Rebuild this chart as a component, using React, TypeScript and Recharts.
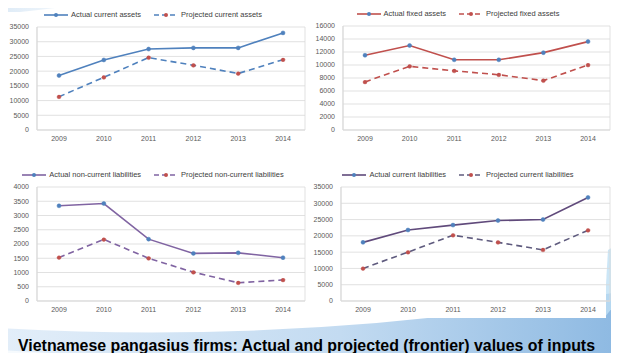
import { LineChart, Line, XAxis, YAxis, CartesianGrid, Legend } from 'recharts';

const YEARS = ['2009', '2010', '2011', '2012', '2013', '2014'];

const currentAssetsActual = [18500, 23800, 27500, 27900, 27900, 33000];
const currentAssetsProjected = [11300, 17900, 24600, 22000, 19200, 23900];

const fixedAssetsActual = [11500, 13000, 10800, 10800, 11900, 13600];
const fixedAssetsProjected = [7400, 9800, 9100, 8500, 7600, 10000];

const nonCurrentLiabActual = [3340, 3420, 2170, 1670, 1690, 1520];
const nonCurrentLiabProjected = [1530, 2160, 1500, 1010, 640, 740];

const currentLiabActual = [18000, 21800, 23300, 24700, 25000, 31800];
const currentLiabProjected = [10000, 15000, 20200, 18000, 15700, 21700];

const TICKS_35K = [0, 5000, 10000, 15000, 20000, 25000, 30000, 35000];
const TICKS_16K = [0, 2000, 4000, 6000, 8000, 10000, 12000, 14000, 16000];
const TICKS_4K = [0, 500, 1000, 1500, 2000, 2500, 3000, 3500, 4000];

const TITLE = 'Vietnamese pangasius firms: Actual and projected (frontier) values of inputs';

const BLUE_DOT = '#4F81BD';
const RED_DOT = '#C0504D';
const GRID = '#D9D9D9';
const FONT = '"Liberation Sans", Arial, sans-serif';

type Row = { year: string; actual: number; projected: number };

function toRows(actual: number[], projected: number[]): Row[] {
    return YEARS.map((year, i) => ({ year, actual: actual[i], projected: projected[i] }));
}

type PanelProps = {
    data: Row[];
    actualName: string;
    projectedName: string;
    actualColor: string;
    projectedColor: string;
    ticks: number[];
    left: number;
    top: number;
    width: number;
    height: number;
    margin: { top: number; right: number; bottom: number; left: number };
    yWidth: number;
};

function LegendIcon({ color, dashed }: { color: string; dashed: boolean }) {
    return (
        <svg width={26} height={8} style={{ marginRight: 2 }}>
            <line
                x1={1}
                y1={4}
                x2={25}
                y2={4}
                stroke={color}
                strokeWidth={1.6}
                strokeDasharray={dashed ? '5 3' : undefined}
            />
            <circle cx={13} cy={4} r={2} fill={dashed ? RED_DOT : BLUE_DOT} />
        </svg>
    );
}

function Panel(props: PanelProps) {
    const { data, ticks, margin } = props;
    const max = ticks[ticks.length - 1];

    const legend = () => (
        <div
            style={{
                height: 18,
                display: 'flex',
                justifyContent: 'center',
                alignItems: 'flex-start',
                fontFamily: FONT,
                fontSize: 7.5,
                color: '#404040',
                lineHeight: '12px',
            }}
        >
            <span style={{ display: 'flex', alignItems: 'center', height: 12, marginRight: 12 }}>
                <LegendIcon color={props.actualColor} dashed={false} />
                {props.actualName}
            </span>
            <span style={{ display: 'flex', alignItems: 'center', height: 12 }}>
                <LegendIcon color={props.projectedColor} dashed={true} />
                {props.projectedName}
            </span>
        </div>
    );

    return (
        <div style={{ position: 'absolute', left: props.left, top: props.top }}>
            <LineChart width={props.width} height={props.height} data={data} margin={margin}>
                <CartesianGrid
                    stroke={GRID}
                    strokeWidth={0.8}
                    verticalCoordinatesGenerator={({ offset }: any) => [
                        offset.left,
                        offset.left + offset.width,
                    ]}
                />
                <XAxis
                    dataKey="year"
                    padding={{ left: 22, right: 22 }}
                    tickLine={false}
                    tickSize={4}
                    tickMargin={2}
                    height={12}
                    axisLine={{ stroke: GRID }}
                    tick={{ fontSize: 7, fill: '#595959', fontFamily: FONT }}
                    interval={0}
                />
                <YAxis
                    domain={[0, max]}
                    ticks={ticks}
                    width={props.yWidth}
                    tickLine={false}
                    axisLine={{ stroke: GRID }}
                    tick={{ fontSize: 7, fill: '#595959', fontFamily: FONT }}
                    interval={0}
                />
                <Legend verticalAlign="top" content={legend} />
                <Line
                    dataKey="actual"
                    name={props.actualName}
                    stroke={props.actualColor}
                    strokeWidth={1.6}
                    dot={{ r: 2, fill: BLUE_DOT, stroke: BLUE_DOT, strokeWidth: 0.5 }}
                    isAnimationActive={false}
                />
                <Line
                    dataKey="projected"
                    name={props.projectedName}
                    stroke={props.projectedColor}
                    strokeWidth={1.6}
                    strokeDasharray="6 4"
                    dot={{ r: 2, fill: RED_DOT, stroke: RED_DOT, strokeWidth: 0.5 }}
                    isAnimationActive={false}
                />
            </LineChart>
        </div>
    );
}

export default function App() {
    return (
        <div
            style={{
                position: 'relative',
                width: 619,
                height: 361,
                margin: -8,
                background: '#ffffff',
                overflow: 'hidden',
            }}
        >
            <svg width={619} height={361} style={{ position: 'absolute', left: 0, top: 0 }}>
                <defs>
                    <linearGradient id="swoosh" x1="0" y1="0" x2="1" y2="0">
                        <stop offset="0%" stopColor="#E3EEF9" />
                        <stop offset="55%" stopColor="#C3DBF1" />
                        <stop offset="100%" stopColor="#8DB9E2" />
                    </linearGradient>
                    <linearGradient id="topSwoosh" x1="0" y1="0" x2="1" y2="0">
                        <stop offset="0%" stopColor="#CFE2F3" />
                        <stop offset="100%" stopColor="#FFFFFF" />
                    </linearGradient>
                </defs>
                <path d="M0,328 Q300,346 619,292 L619,361 L0,361 Z" fill="url(#swoosh)" />
                <path d="M0,361 L0,350 Q120,358 300,361 Z" fill="#ffffff" opacity={0.7} />
                <path d="M608,250 L619,244 L619,300 L604,318 Z" fill="#BFE0F4" opacity={0.8} />
                <rect x={0} y={160} width={606} height={158} fill="#ffffff" />
                <path d="M0,0 L110,0 Q60,8 20,12 L0,12 Z" fill="url(#topSwoosh)" opacity={0.7} />
            </svg>

            <Panel
                data={toRows(currentAssetsActual, currentAssetsProjected)}
                actualName="Actual current assets"
                projectedName="Projected current assets"
                actualColor="#4F81BD"
                projectedColor="#4F81BD"
                ticks={TICKS_35K}
                left={0}
                top={0}
                width={310}
                height={150}
                margin={{ top: 9, right: 5, bottom: 8, left: 0 }}
                yWidth={37}
            />
            <Panel
                data={toRows(fixedAssetsActual, fixedAssetsProjected)}
                actualName="Actual fixed assets"
                projectedName="Projected fixed assets"
                actualColor="#C0504D"
                projectedColor="#C0504D"
                ticks={TICKS_16K}
                left={305}
                top={0}
                width={314}
                height={150}
                margin={{ top: 8, right: 9, bottom: 8, left: 0 }}
                yWidth={38}
            />
            <Panel
                data={toRows(nonCurrentLiabActual, nonCurrentLiabProjected)}
                actualName="Actual non-current liabilities"
                projectedName="Projected non-current liabilities"
                actualColor="#8064A2"
                projectedColor="#8064A2"
                ticks={TICKS_4K}
                left={0}
                top={165}
                width={310}
                height={150}
                margin={{ top: 4, right: 5, bottom: 2, left: 0 }}
                yWidth={37}
            />
            <Panel
                data={toRows(currentLiabActual, currentLiabProjected)}
                actualName="Actual current liabilities"
                projectedName="Projected current liabilities"
                actualColor="#604A7B"
                projectedColor="#5F5B7E"
                ticks={TICKS_35K}
                left={305}
                top={165}
                width={314}
                height={150}
                margin={{ top: 4, right: 9, bottom: 2, left: 0 }}
                yWidth={36}
            />

            <svg width={619} height={30} style={{ position: 'absolute', left: 0, top: 328 }}>
                <text
                    x={18}
                    y={23}
                    fontSize={16}
                    fontWeight="bold"
                    fontFamily={FONT}
                    fill="#000000"
                    textLength={577}
                    lengthAdjust="spacingAndGlyphs"
                >
                    {TITLE}
                </text>
            </svg>
            <div
                style={{
                    position: 'absolute',
                    left: 597,
                    top: 352,
                    fontSize: 6,
                    lineHeight: '7px',
                    fontFamily: FONT,
                    color: '#ffffff',
                }}
            >
                www.ntu
            </div>
        </div>
    );
}
